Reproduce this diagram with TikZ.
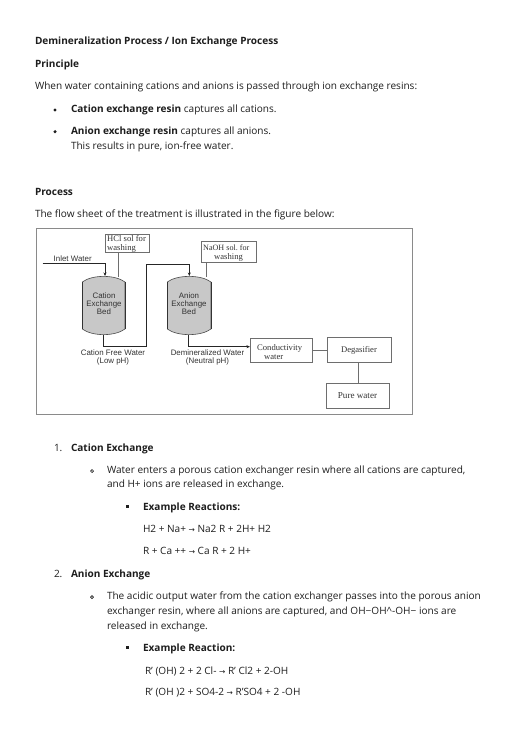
\documentclass[tikz,border=0pt]{standalone}
\usepackage{fontspec}
\setmainfont{Open Sans}
\newfontfamily\serifdia{Liberation Serif}
\newfontfamily\sansdia{Liberation Sans}
\newfontfamily\arrowfont{DejaVu Sans}
\newcommand{\RA}{{\arrowfont\fontsize{7.5}{8}\selectfont →}}
\usetikzlibrary{arrows.meta}
\definecolor{ink}{HTML}{1E1E1E}
\definecolor{framegray}{HTML}{8A8A8A}
\definecolor{boxgray}{HTML}{6E6E6E}
\definecolor{bedfill}{HTML}{C8C8C8}
\frenchspacing
\tikzset{
  x=1pt,y=-1pt,
  txt/.style={anchor=base west,inner sep=0pt,outer sep=0pt,text=ink,font=\fontsize{10.05}{12}\selectfont},
  boldtxt/.style={txt,font=\fontsize{10.05}{12}\selectfont\bfseries},
  dotmark/.style={circle,fill=ink,inner sep=0pt,minimum size=3.4pt},
  ringmark/.style={circle,draw=ink,line width=0.7pt,inner sep=0pt,minimum size=3pt},
  squaremark/.style={rectangle,fill=ink,inner sep=0pt,minimum size=2.8pt},
  procbox/.style={draw=boxgray,line width=0.7pt,fill=white,inner sep=0pt},
  seriftxt/.style={anchor=base west,inner sep=0pt,text=black!80,font=\serifdia\fontsize{8.6}{9}\selectfont},
  sanslab/.style={anchor=center,inner sep=0pt,text=black!80,align=center,font=\sansdia\fontsize{7.9}{8}\selectfont},
  pipe/.style={draw=black!85,line width=0.8pt},
  linkline/.style={draw=boxgray,line width=0.7pt},
  flowline/.style={pipe,-{Stealth[length=3.5pt,width=3pt]}},
  vessel/.style={fill=bedfill,draw=black!70,line width=0.6pt},
}
\newcommand{\bedshape}[2]{%
  \path[vessel] (#1,282) .. controls (#1+10,274.5) and (#2-10,274.5) .. (#2,282) -- (#2,329)
    .. controls (#2-10,336.5) and (#1+10,336.5) .. (#1,329) -- cycle;
  \draw[black!80,line width=1pt] (#1,282) -- (#1,329) (#2,282) -- (#2,329);
}
\begin{document}
\begin{tikzpicture}
\useasboundingbox (0,0) rectangle (525,746);
\fill[white] (0,0) rectangle (525,746);

% text top
\node[boldtxt] (t1) at (35,45) {Demineralization Process / Ion Exchange Process};
\node[boldtxt] (t2) at (35,68) {Principle};
\node[txt] (t3) at (35,90) {When water containing cations and anions is passed through ion exchange resins:};
\node[dotmark] (b1) at (55,110) {};
\node[txt] (t4) at (71,113) {\textbf{Cation exchange resin} captures all cations.};
\node[dotmark] (b2) at (55,131.7) {};
\node[txt] (t5) at (71,134.7) {\textbf{Anion exchange resin} captures all anions.};
\node[txt] (t6) at (71,150) {This results in pure, ion-free water.};
\node[boldtxt] (t7) at (35,195) {Process};
\node[txt] (t8) at (35,217) {The flow sheet of the treatment is illustrated in the figure below:};

% figure
\draw[framegray,line width=0.8pt] (36.7,228) rectangle (412,414);
\bedshape{82.3}{125}
\bedshape{167.3}{211}
\coordinate (cattop) at (105,276);
\coordinate (catout) at (103.7,335);
\coordinate (anitop) at (189.3,276);
\coordinate (aniout) at (188,335);
\coordinate (cathcl) at (118.7,276.5);
\coordinate (aninaoh) at (206,277);
\coordinate (inlet) at (42.7,263.7);
\node[sanslab] (catlab) at (104,304) {Cation\\Exchange\\Bed};
\node[sanslab] (anilab) at (189,304) {Anion\\Exchange\\Bed};
\node[procbox,minimum width=43.3pt,minimum height=18pt] (hcl) at (127.35,243) {};
\node[procbox,minimum width=55pt,minimum height=20.3pt] (naoh) at (228.5,251.85) {};
\node[procbox,minimum width=62.4pt,minimum height=24.7pt] (cond) at (281.5,350.35) {};
\node[procbox,minimum width=63.3pt,minimum height=25.7pt] (degas) at (359.35,349.85) {};
\node[procbox,minimum width=63pt,minimum height=25.4pt] (pure) at (358.2,396) {};

\node[seriftxt] (h1) at (107,241.5) {HCl sol for};
\node[seriftxt] (h2) at (107,250) {washing};
\node[seriftxt,font=\serifdia\fontsize{8.1}{9}\selectfont] (n1) at (203,250) {NaOH sol. for};
\node[seriftxt] (n2) at (214,259.5) {washing};
\node[seriftxt] (c1) at (257,350) {Conductivity};
\node[seriftxt] (c2) at (264,359.5) {water};
\node[seriftxt,anchor=center] (d1) at (359,350) {Degasifier};
\node[seriftxt,anchor=center,font=\serifdia\fontsize{9.1}{10}\selectfont] (p1) at (357.5,396) {Pure water};
\node[sanslab] (inl) at (72.7,259) {Inlet Water};
\node[sanslab] (cf) at (113,357.5) {Cation Free Water\\(Low pH)};
\node[sanslab] (dw) at (207.5,357.5) {Demineralized Water\\(Neutral pH)};

\draw[flowline] (inlet) -| (cattop);
\draw[linkline] (hcl.south -| cathcl) -- (cathcl);
\draw[linkline] (naoh.south -| aninaoh) -- (aninaoh);
\draw[flowline] (catout) |- (146.7,346.7) -- (146.7,264) -| (anitop);
\draw[flowline] (aniout) |- (cond.west |- 0,346.7);
\draw[linkline] (cond.east |- 0,350) -- (degas.west |- 0,350);
\draw[linkline] (358,362.7) -- (358,383.3);

% text below
\node[txt] (n1a) at (54,451) {1.};
\node[boldtxt] (s1) at (71,451) {Cation Exchange};
\node[ringmark] (o1) at (92,471) {};
\node[txt] (s2) at (107,473) {Water enters a porous cation exchanger resin where all cations are captured,};
\node[txt] (s3) at (107,487) {and H+ ions are released in exchange.};
\node[squaremark] (sq1) at (127.7,506.7) {};
\node[boldtxt] (s4) at (143,510) {Example Reactions:};
\node[txt] (s5) at (143,532) {H2 + Na+ \RA{} Na2 R + 2H+ H2};
\node[txt] (s6) at (143,554) {R + Ca ++ \RA{} Ca R + 2 H+};
\node[txt] (n2a) at (54,577) {2.};
\node[boldtxt] (a1) at (71,577) {Anion Exchange};
\node[ringmark] (o2) at (92,597) {};
\node[txt] (a2) at (107,599) {The acidic output water from the cation exchanger passes into the porous anion};
\node[txt] (a3) at (107,614) {exchanger resin, where all anions are captured, and OH−OH\char`\^-OH− ions are};
\node[txt] (a4) at (107,629) {released in exchange.};
\node[squaremark] (sq2) at (127.7,647.7) {};
\node[boldtxt] (a5) at (143,651) {Example Reaction:};
\node[txt] (a6) at (145,674) {R' (OH) 2 + 2 Cl- \RA{} R' Cl2 + 2-OH};
\node[txt] (a7) at (145,695.7) {R' (OH )2 + SO4-2 \RA{} R'SO4 + 2 -OH};
\end{tikzpicture}
\end{document}
